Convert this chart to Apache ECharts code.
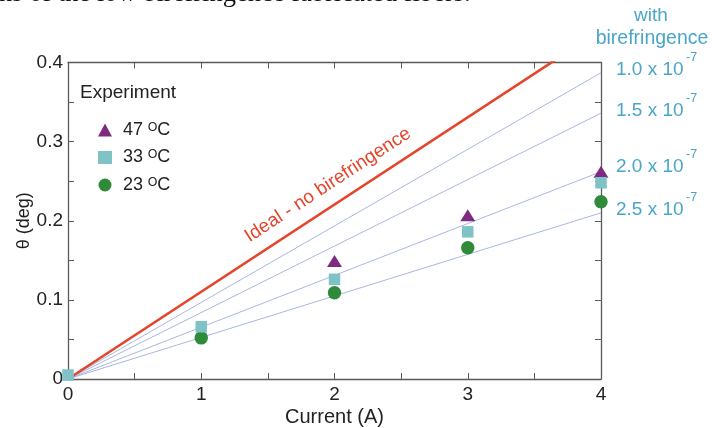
<!DOCTYPE html>
<html><head><meta charset="utf-8">
<script src="https://cdn.jsdelivr.net/npm/echarts@6/dist/echarts.min.js"></script>
<style>html,body{margin:0;padding:0;background:#fff}#c{width:712px;height:428px}</style>
</head><body><div id="c"></div>
<script>
// Data
const xTicks = [0, 1, 2, 3, 4];
const yTicks = [0, 0.1, 0.2, 0.3, 0.4];
const exp47 = [[2, 0.149], [3, 0.207], [4, 0.262]];
const exp33 = [[0, 0.005], [1, 0.066], [2, 0.126], [3, 0.186], [4, 0.248]];
const exp23 = [[1, 0.052], [2, 0.109], [3, 0.166], [4, 0.224]];
const idealLine = [[0, 0], [4, 0.441]];
const biref10 = [[0, 0], [4, 0.387]];
const biref15 = [[0, 0], [4, 0.336]];
const biref20 = [[0, 0], [4, 0.262]];
const biref25 = [[0, 0], [4, 0.210]];
const birefLabels = ['1.0 x 10', '1.5 x 10', '2.0 x 10', '2.5 x 10'];
const legendNames = ['47 ᴼC', '33 ᴼC', '23 ᴼC'];

const FONT = 'Liberation Sans, Arial, sans-serif';
const chart = echarts.init(document.getElementById('c'));
const axisCol = '#5a5a5a';
const blue = '#a9b6e2';
const cyan = '#4aa6c9';

function thinLine(d) {
  return { type: 'line', data: d, symbol: 'none', silent: true, z: 1,
    lineStyle: { color: blue, width: 1 } };
}

const labelY = [75, 116, 172, 215];
const graphics = [
  { type: 'text', left: -1, top: -19, style: { text: 'ns of the low birefringence fabricated fibers.', font: '26.5px "Liberation Serif", serif', fill: '#111' } },
  { type: 'text', x: 651, y: 25, style: { text: 'with', font: '19px ' + FONT, fill: cyan, align: 'center', verticalAlign: 'bottom' } },
  { type: 'text', x: 652, y: 49, style: { text: 'birefringence', font: '19.5px ' + FONT, fill: cyan, align: 'center', verticalAlign: 'bottom' } },
  { type: 'text', x: 80, y: 93, style: { text: 'Experiment', font: '19px ' + FONT, fill: '#222', verticalAlign: 'middle' } },
  { type: 'text', x: 328, y: 185, rotation: 33.2 * Math.PI / 180, style: { text: 'Ideal - no birefringence', font: '19px ' + FONT, fill: '#e5452b', align: 'center', verticalAlign: 'middle' } }
];
birefLabels.forEach((t, i) => {
  graphics.push({ type: 'text', x: 616, y: labelY[i] + 4, style: { text: t, font: '19px ' + FONT, fill: cyan, verticalAlign: 'bottom' } });
  graphics.push({ type: 'text', x: 686, y: labelY[i] - 11, style: { text: '-7', font: '12.5px ' + FONT, fill: cyan, verticalAlign: 'bottom' } });
});

function axisCommon() {
  return {
    nameMoveOverlap: false,
    axisLine: { show: true, onZero: false, lineStyle: { color: axisCol, width: 1.3 } },
    axisTick: { inside: true, length: 6, lineStyle: { color: axisCol } },
    minorTick: { show: true, splitNumber: 2, length: 6, lineStyle: { color: axisCol } },
    splitLine: { show: false }
  };
}

const option = {
  animation: false,
  textStyle: { fontFamily: FONT },
  grid: { left: 68, right: 111, top: 62.5, bottom: 49, outerBoundsMode: 'none', containLabel: false },
  legend: {
    orient: 'vertical', left: 93, top: 116, itemGap: 9.5, itemWidth: 14, itemHeight: 13,
    data: legendNames,
    textStyle: { fontSize: 18, color: '#222', fontFamily: FONT, padding: [0, 0, 0, 6] }
  },
  xAxis: [
    Object.assign(axisCommon(), { type: 'value', min: 0, max: 4, interval: 1, name: 'Current (A)', nameLocation: 'middle', nameGap: 28,
      nameTextStyle: { fontSize: 20, color: '#222' },
      axisLabel: { fontSize: 19, color: '#222', margin: 6, formatter: v => String(v) } }),
    Object.assign(axisCommon(), { type: 'value', position: 'top', min: 0, max: 4, interval: 1,
      axisLabel: { show: false } })
  ],
  yAxis: [
    Object.assign(axisCommon(), { type: 'value', min: 0, max: 0.4, interval: 0.1, name: 'θ (deg)', nameLocation: 'middle', nameGap: 35, nameRotate: 90,
      nameTextStyle: { fontSize: 18, color: '#222' },
      axisLabel: { fontSize: 19, color: '#222', margin: 5, formatter: v => (v === 0 ? '0' : v.toFixed(1)) } }),
    Object.assign(axisCommon(), { type: 'value', position: 'right', min: 0, max: 0.4, interval: 0.1,
      axisLabel: { show: false } })
  ],
  graphic: graphics,
  series: [
    thinLine(biref10), thinLine(biref15), thinLine(biref20), thinLine(biref25),
    { type: 'line', data: idealLine, symbol: 'none', silent: true, z: 2, clip: true,
      lineStyle: { color: '#e5452b', width: 2.6 } },
    { name: legendNames[0], type: 'scatter', data: exp47, symbol: 'triangle', symbolSize: [15, 12], z: 3,
      itemStyle: { color: '#7d2a80', opacity: 1 } },
    { name: legendNames[1], type: 'scatter', data: exp33, symbol: 'rect', symbolSize: 11.5, z: 5,
      itemStyle: { color: '#7fc3c6', opacity: 1 } },
    { name: legendNames[2], type: 'scatter', data: exp23, symbol: 'circle', symbolSize: 13.5, z: 4,
      itemStyle: { color: '#2f8a3a', opacity: 1 } }
  ]
};
chart.setOption(option);
</script>
</body></html>
